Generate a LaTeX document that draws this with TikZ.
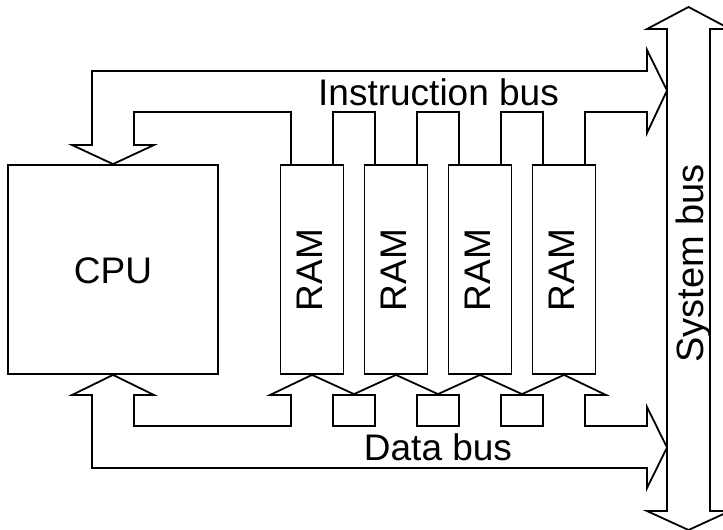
\documentclass[tikz,border=0pt]{standalone}
\usepackage{fontspec}
\setmainfont{Liberation Sans}
\begin{document}
\begin{tikzpicture}[x=1pt,y=-1pt,
  outline/.style={draw=black,line width=1.8pt,line join=miter},
  box/.style={outline,rectangle,inner sep=0pt},
  lbl/.style={font=\fontsize{37}{40}\selectfont,inner sep=0pt},
  ramlbl/.style={lbl,rotate=90,anchor=base}]
\useasboundingbox (0,0) rectangle (723,530);
\clip (0,0) rectangle (723,530);
% CPU
\node[box,minimum width=210pt,minimum height=209pt] (cpu) at (113,269.5) {};
\node[lbl,anchor=base] (cputxt) at (113,283) {CPU};
% RAM modules
\foreach \i/\c in {1/312,2/396,3/480,4/564}{
  \node[box,minimum width=63pt,minimum height=209pt] (ram\i) at (\c,269.5) {};
  \node[ramlbl] (ramtxt\i) at (\c+10,270) {RAM};
}
% small links on the data bus
\foreach \i/\c in {1/354,2/438,3/522}{
  \node[box,minimum width=42pt,minimum height=31pt] (link\i) at (\c,410.5) {};
}
% System bus
\node[inner sep=0pt] (sysbus) at (688.5,268) {};
\draw[outline] (688.5,7) -- (730,29) -- (710,29) -- (710,511) -- (730,511)
  -- (688.5,530) -- (647,511) -- (667,511) -- (667,29) -- (647,29) -- cycle;
\node[lbl,font=\fontsize{38}{40}\selectfont,rotate=90,anchor=base] (systxt) at (703,263.5) {System bus};
% Instruction bus
\draw[outline] (cpu.north) -- (72,145) -- (92,145) -- (92,71) -- (647,71) -- (647,50)
  -- (667,90.5) -- (647,133) -- (647,112) -- (585,112) -- (585,165);
\draw[outline] (543,165) -- (543,112) -- (501,112) -- (501,165);
\draw[outline] (459,165) -- (459,112) -- (417,112) -- (417,165);
\draw[outline] (375,165) -- (375,112) -- (333,112) -- (333,165);
\draw[outline] (291,165) -- (291,112) -- (134,112) -- (134,145) -- (154,145) -- (cpu.north);
\node[lbl,anchor=base] (itxt) at (438.5,105) {Instruction bus};
% Data bus
\draw[outline] (cpu.south) -- (72,395) -- (92,395) -- (92,468) -- (647,468) -- (647,488)
  -- (667,447.5) -- (647,407) -- (647,426) -- (585,426) -- (585,395) -- (606,395)
  -- (ram4.south) -- (link3.north) -- (ram3.south) -- (link2.north) -- (ram2.south)
  -- (link1.north) -- (ram1.south) -- (270,395) -- (291,395) -- (291,426)
  -- (134,426) -- (134,395) -- (154,395) -- (cpu.south);
\node[lbl,anchor=base] (dtxt) at (438,460) {Data bus};
\end{tikzpicture}
\end{document}
